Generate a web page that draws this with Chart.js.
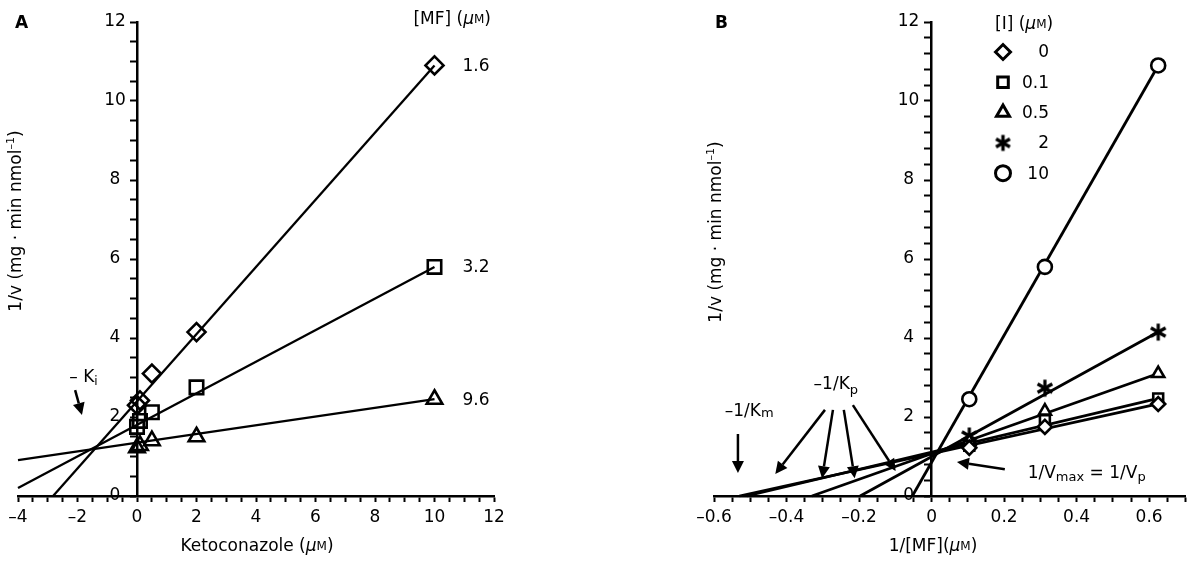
<!DOCTYPE html>
<html>
<head>
<meta charset="utf-8">
<script src="https://cdn.jsdelivr.net/npm/chart.js@4"></script>
<style>
  html, body { margin: 0; padding: 0; background: #fff; }
  #wrap { position: relative; width: 1195px; height: 562px; }
  canvas { position: absolute; top: 0; }
  #chartA { left: 0; }
  #chartB { left: 597px; }
</style>
</head>
<body>
<div id="wrap">
  <canvas id="chartA" width="597" height="562"></canvas>
  <canvas id="chartB" width="598" height="562"></canvas>
</div>
<script>
const FONT = "'DejaVu Sans', sans-serif"
const FS = 17

// panel A: 1/v against ketoconazole, one series per [MF] (uM)
const ketoconazole = [0, 0.1, 0.5, 2, 10]
const mfLabels = ['1.6', '3.2', '9.6']
const invV_mf16 = [2.3, 2.42, 3.1, 4.15, 10.9]
const invV_mf32 = [1.75, 1.9, 2.12, 2.75, 5.8]
const invV_mf96 = [1.22, 1.28, 1.4, 1.5, 2.45]
// fitted lines: [x start, x end], [y start, y end]
const fitA_x = [[-2.82, 10], [-4, 10], [-4, 10]]
const fitA_y = [[0, 10.9], [0.2, 5.8], [0.91, 2.45]]

// panel B: 1/v against 1/[MF], one series per [I] (uM)
const invMF = [0.104, 0.3125, 0.625]
const iLabels = ['0', '0.1', '0.5', '2', '10']
const invV_i0 = [1.22, 1.75, 2.33]
const invV_i01 = [1.27, 1.92, 2.47]
const invV_i05 = [1.38, 2.15, 3.1]
const invV_i2 = [1.52, 2.73, 4.15]
const invV_i10 = [2.45, 5.8, 10.9]
const fitB_x = [[-0.53, 0.625], [-0.51, 0.625], [-0.33, 0.625], [-0.197, 0.625], [-0.053, 0.625]]
const fitB_y = [[0, 2.33], [0, 2.47], [0, 3.1], [0, 4.15], [0, 10.9]]

// six-armed asterisk for the [I] = 2 series
function asterisk(size, lw) {
    const c = document.createElement('canvas')
    c.width = size; c.height = size
    const g = c.getContext('2d')
    g.strokeStyle = '#000'; g.lineWidth = lw
    const r = size / 2 - 1.5
    for (const a of [90, 30, 150]) {
        const t = a * Math.PI / 180
        g.beginPath()
        g.moveTo(size / 2 + r * Math.cos(t), size / 2 - r * Math.sin(t))
        g.lineTo(size / 2 - r * Math.cos(t), size / 2 + r * Math.sin(t))
        g.stroke()
    }
    return c
}

function zip(xs, ys) { return xs.map((x, i) => ({ x: x, y: ys[i] })) }

// mixed-font text: parts are {t, size, italic, bold, dy}
function T(t, o) { return Object.assign({ t: t, size: FS }, o || {}) }
function fontOf(p) { return (p.italic ? 'italic ' : '') + (p.bold ? 'bold ' : '') + p.size + 'px ' + FONT }
function rich(ctx, parts, x, y, align) {
    let w = 0
    parts.forEach(p => { ctx.font = fontOf(p); w += ctx.measureText(p.t).width })
    let cx = align === 'center' ? x - w / 2 : align === 'right' ? x - w : x
    ctx.textAlign = 'left'; ctx.textBaseline = 'middle'; ctx.fillStyle = '#000'
    parts.forEach(p => {
        ctx.font = fontOf(p)
        ctx.fillText(p.t, cx, y + (p.dy || 0))
        cx += ctx.measureText(p.t).width
    })
}
const MU = [T(' ('), T('μ', { italic: true }), T('M', { size: 12 }), T(')')]
const YTITLE = [T('1/v (mg · min nmol'), T('–1', { size: 11, dy: -6 }), T(')')]

function arrow(ctx, x1, y1, x2, y2) {
    const a = Math.atan2(y2 - y1, x2 - x1), L = 12, H = 6
    ctx.save()
    ctx.strokeStyle = '#000'; ctx.fillStyle = '#000'; ctx.lineWidth = 2.5
    ctx.beginPath()
    ctx.moveTo(x1, y1)
    ctx.lineTo(x2 - L * Math.cos(a), y2 - L * Math.sin(a))
    ctx.stroke()
    ctx.beginPath()
    ctx.moveTo(x2, y2)
    ctx.lineTo(x2 - L * Math.cos(a) + H * Math.sin(a), y2 - L * Math.sin(a) - H * Math.cos(a))
    ctx.lineTo(x2 - L * Math.cos(a) - H * Math.sin(a), y2 - L * Math.sin(a) + H * Math.cos(a))
    ctx.closePath()
    ctx.fill()
    ctx.restore()
}

function fmt(v, dec) {
    if (Math.abs(v) < 1e-9) return '0'
    return (v < 0 ? '–' : '') + Math.abs(v).toFixed(dec)
}

function scales(xMin, xMax, xStep, xEvery, xDec, yStep, yLabelGap) {
    const tickGrid = { display: true, drawOnChartArea: false, drawTicks: true, tickLength: 6, tickWidth: 2, tickColor: '#000' }
    return {
        x: {
            type: 'linear', min: xMin, max: xMax,
            afterFit(s) { s.height = 66 },
            border: { display: true, color: '#000', width: 2.5 },
            grid: tickGrid,
            ticks: {
                stepSize: xStep, autoSkip: false, maxRotation: 0, color: '#000', padding: 5,
                font: { family: FONT, size: FS },
                callback: v => Math.abs(v / xEvery - Math.round(v / xEvery)) < 1e-6 ? fmt(v, xDec) : ''
            }
        },
        y: {
            type: 'linear', min: 0, max: 12, position: { x: 0 },
            border: { display: true, color: '#000', width: 2.5 },
            grid: tickGrid,
            // an axis placed at x = 0 draws its labels on the line itself:
            // centre them and move them left of the tick marks
            afterUpdate(s) {
                if (s._moved) return
                s._moved = true
                s._getYAxisLabelAlignment = () => ({ textAlign: 'center' })
                const draw = s.drawLabels.bind(s)
                s.drawLabels = function (area) {
                    s.ctx.save()
                    s.ctx.translate(-yLabelGap, 0)
                    draw(area)
                    s.ctx.restore()
                }
            },
            ticks: {
                stepSize: yStep, autoSkip: false, color: '#000',
                font: { family: FONT, size: FS },
                callback: v => Math.abs(v / 2 - Math.round(v / 2)) < 1e-6 ? fmt(v, 0) : ''
            }
        }
    }
}

function markers(label, data, style, r, fill) {
    return {
        label: label, data: data, showLine: false, pointStyle: style, pointRadius: r, pointHoverRadius: r,
        pointBorderWidth: 2.6, borderColor: '#000', backgroundColor: fill, pointBackgroundColor: fill, clip: false
    }
}
function fitLine(x, y, w) {
    return { data: zip(x, y), showLine: true, pointRadius: 0, borderColor: '#000', borderWidth: w, clip: false }
}

const common = {
    responsive: false, animation: false, devicePixelRatio: 1,
    plugins: { legend: { display: false }, tooltip: { enabled: false } },
    events: []
}

// ---------- panel A ----------
const annotA = {
    id: 'annotA',
    afterDraw(chart) {
        const ctx = chart.ctx, xs = chart.scales.x, ys = chart.scales.y
        const X = v => xs.getPixelForValue(v), Y = v => ys.getPixelForValue(v)
        ctx.save()
        rich(ctx, [T('A', { bold: true })], 15, 24, 'left')
        rich(ctx, [T('[MF]')].concat(MU), 491, 20, 'right')
        const last = [invV_mf16, invV_mf32, invV_mf96]
        mfLabels.forEach((l, i) => rich(ctx, [T(l)], X(10) + 28, Y(last[i][4]) + 1, 'left'))
        rich(ctx, [T('– K'), T('i', { size: 12, dy: 4 })], X(-1.8), Y(3.0), 'center')
        arrow(ctx, X(-2.08), Y(2.68), X(-1.85), Y(2.05))
        ctx.translate(17, 221); ctx.rotate(-Math.PI / 2)
        rich(ctx, YTITLE, 0, 0, 'center')
        ctx.restore()
        ctx.save()
        rich(ctx, [T('Ketoconazole')].concat(MU), 257, 547, 'center')
        ctx.restore()
    }
}

new Chart(document.getElementById('chartA'), {
    type: 'scatter',
    data: {
        datasets: [
            markers(mfLabels[0], zip(ketoconazole, invV_mf16), 'rectRot', 9, 'rgba(0,0,0,0)'),
            markers(mfLabels[1], zip(ketoconazole, invV_mf32), 'rect', 9.5, 'rgba(0,0,0,0)'),
            markers(mfLabels[2], zip(ketoconazole, invV_mf96), 'triangle', 9, 'rgba(0,0,0,0)'),
            fitLine(fitA_x[0], fitA_y[0], 2.3),
            fitLine(fitA_x[1], fitA_y[1], 2.3),
            fitLine(fitA_x[2], fitA_y[2], 2.3)
        ]
    },
    options: Object.assign({}, common, {
        layout: { padding: { left: 18, right: 103, top: 22, bottom: 0 } },
        scales: scales(-4, 12, 0.5, 2, 0, 0.5, 22)
    }),
    plugins: [annotA]
})

// ---------- panel B ----------
const starImg = asterisk(20, 3.2)
const starLegend = asterisk(19, 3.4)
const stylesB = ['rectRot', 'rect', 'triangle', starImg, 'circle']
const legendStylesB = ['rectRot', 'rect', 'triangle', starLegend, 'circle']
const OFF = 597

const annotB = {
    id: 'annotB',
    afterDraw(chart) {
        const ctx = chart.ctx, xs = chart.scales.x, ys = chart.scales.y
        const X = v => xs.getPixelForValue(v), Y = v => ys.getPixelForValue(v)
        ctx.save()
        rich(ctx, [T('B', { bold: true })], 715 - OFF, 24, 'left')
        // legend
        rich(ctx, [T('[I]')].concat(MU), 995 - OFF, 25, 'left')
        iLabels.forEach((l, i) => {
            const y = 52 + i * 30.3
            ctx.save()
            ctx.strokeStyle = '#000'; ctx.fillStyle = '#fff'; ctx.lineWidth = 3
            Chart.helpers.drawPoint(ctx, { pointStyle: legendStylesB[i], radius: 7.5, rotation: 0, borderWidth: 3 }, 1003 - OFF, y)
            ctx.restore()
            rich(ctx, [T(l)], 1049 - OFF, y + 1, 'right')
        })
        // annotations
        rich(ctx, [T('–1/K'), T('m', { size: 13, dy: 2 })], X(-0.503), Y(2.13), 'center')
        arrow(ctx, X(-0.534), Y(1.57), X(-0.534), Y(0.58))
        rich(ctx, [T('–1/K'), T('p', { size: 13, dy: 6 })], X(-0.264), Y(2.81), 'center')
        arrow(ctx, X(-0.294), Y(2.18), X(-0.431), Y(0.56))
        arrow(ctx, X(-0.272), Y(2.18), X(-0.302), Y(0.45))
        arrow(ctx, X(-0.242), Y(2.18), X(-0.212), Y(0.45))
        arrow(ctx, X(-0.217), Y(2.30), X(-0.099), Y(0.63))
        rich(ctx, [T('1/V'), T('max', { size: 13, dy: 5 }), T(' = 1/V'), T('p', { size: 13, dy: 5 })], X(0.265), Y(0.58), 'left')
        arrow(ctx, X(0.202), Y(0.68), X(0.07), Y(0.86))
        ctx.translate(717 - OFF, 232); ctx.rotate(-Math.PI / 2)
        rich(ctx, YTITLE, 0, 0, 'center')
        ctx.restore()
        ctx.save()
        rich(ctx, [T('1/[MF]('), T('μ', { italic: true }), T('M', { size: 12 }), T(')')], 933 - OFF, 547, 'center')
        ctx.restore()
    }
}

const seriesB = [invV_i0, invV_i01, invV_i05, invV_i2, invV_i10]
const dsB = seriesB.map((s, i) => markers(iLabels[i], zip(invMF, s), stylesB[i], 7, '#fff'))
    .concat(fitB_x.map((fx, i) => fitLine(fx, fitB_y[i], 2.8)))

new Chart(document.getElementById('chartB'), {
    type: 'scatter',
    data: { datasets: dsB },
    options: Object.assign({}, common, {
        layout: { padding: { left: 117, right: 8, top: 22, bottom: 0 } },
        scales: scales(-0.6, 0.7, 0.05, 0.2, 1, 0.4, 23)
    }),
    plugins: [annotB]
})
</script>
</body>
</html>
